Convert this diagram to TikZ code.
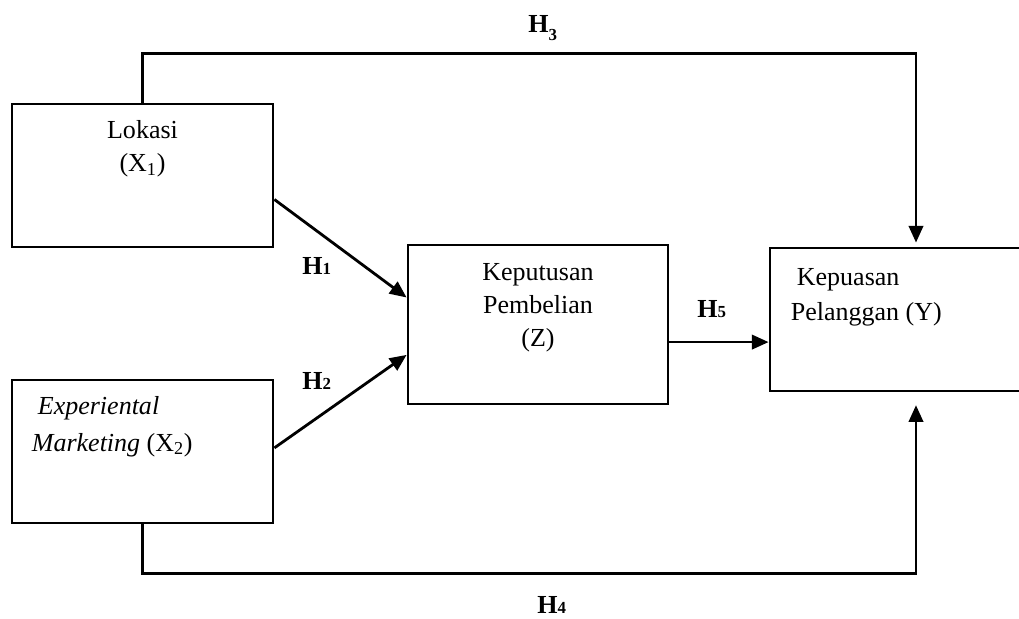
\documentclass[tikz,border=0pt]{standalone}
\usepackage{fontspec}
\setmainfont{Liberation Serif}
\usetikzlibrary{arrows.meta,positioning,calc}

\newcommand{\hyp}[1]{\textbf{H{\fontsize{12}{12}\selectfont #1}}}

\begin{document}
\begin{tikzpicture}[>={Triangle[length=0.42cm,width=0.36cm]},
    font=\fontsize{18.5}{23.4}\selectfont,
    box/.style={draw, line width=0.07cm, inner sep=0pt},
    link/.style={line width=0.07cm},
    hlab/.style={anchor=base west, inner sep=0pt}]
  \useasboundingbox (0,0) rectangle (25.475,15.475);
  % variables
  \node[box, minimum width=6.525cm, minimum height=3.575cm] (lok) at (3.5625,11.0875) {};
  \node[box, minimum width=6.525cm, minimum height=3.575cm] (exp) at (3.5625,4.1875) {};
  \node[box, minimum width=6.5cm, minimum height=3.975cm] (kep) at (13.45,7.3625) {};
  \node[box, minimum width=7.3cm, minimum height=3.575cm] (pua) at (22.9,7.4875) {};
  % texts in the boxes
  \node[anchor=north, align=center, inner sep=0pt] (loktxt) at ([yshift=-0.45cm]lok.north) {Lokasi\\(X\textsubscript{1})};
  \node[anchor=north west, align=left, inner sep=0pt] (exptxt) at ([xshift=0.525cm,yshift=-0.43cm]exp.north west)
    {\hspace{0.15cm}\textit{Experiental}\\[3pt]\textit{Marketing} (X\textsubscript{2})};
  \node[anchor=north, align=center, inner sep=0pt] (keptxt) at ([yshift=-0.5cm]kep.north) {Keputusan\\Pembelian\\(Z)};
  \node[anchor=north west, align=left, inner sep=0pt] (puatxt) at ([xshift=0.55cm,yshift=-0.55cm]pua.north west)
    {\hspace{0.15cm}Kepuasan\\[1.5pt]Pelanggan (Y)};
  % hypotheses
  \draw[link, ->] ([yshift=-0.6cm]lok.east) -- ([yshift=0.675cm]kep.west);
  \draw[link, ->] ([yshift=0.09cm]exp.east) -- ([yshift=-0.76cm]kep.west);
  \draw[link, ->] ([yshift=-0.44cm]kep.east) -- ([yshift=-0.44cm]kep.east -| pua.west);
  \draw[link, ->, shorten >=0.1cm] (lok.north) -- ++(0,1.225) -| (pua.north);
  \draw[link, ->, shorten >=0.32cm] (exp.south) -- ++(0,-1.225) -| (pua.south);
  % labels
  \node[hlab] (h1) at (7.55,8.6) {\hyp{1}};
  \node[hlab] (h2) at (7.55,5.725) {\hyp{2}};
  \node[hlab] (h3) at (13.2,14.65) {\textbf{H}\raisebox{-5pt}{\fontsize{12}{12}\selectfont\bfseries 3}};
  \node[hlab] (h4) at (13.425,0.14) {\hyp{4}};
  \node[hlab] (h5) at (17.425,7.525) {\hyp{5}};
\end{tikzpicture}
\end{document}
